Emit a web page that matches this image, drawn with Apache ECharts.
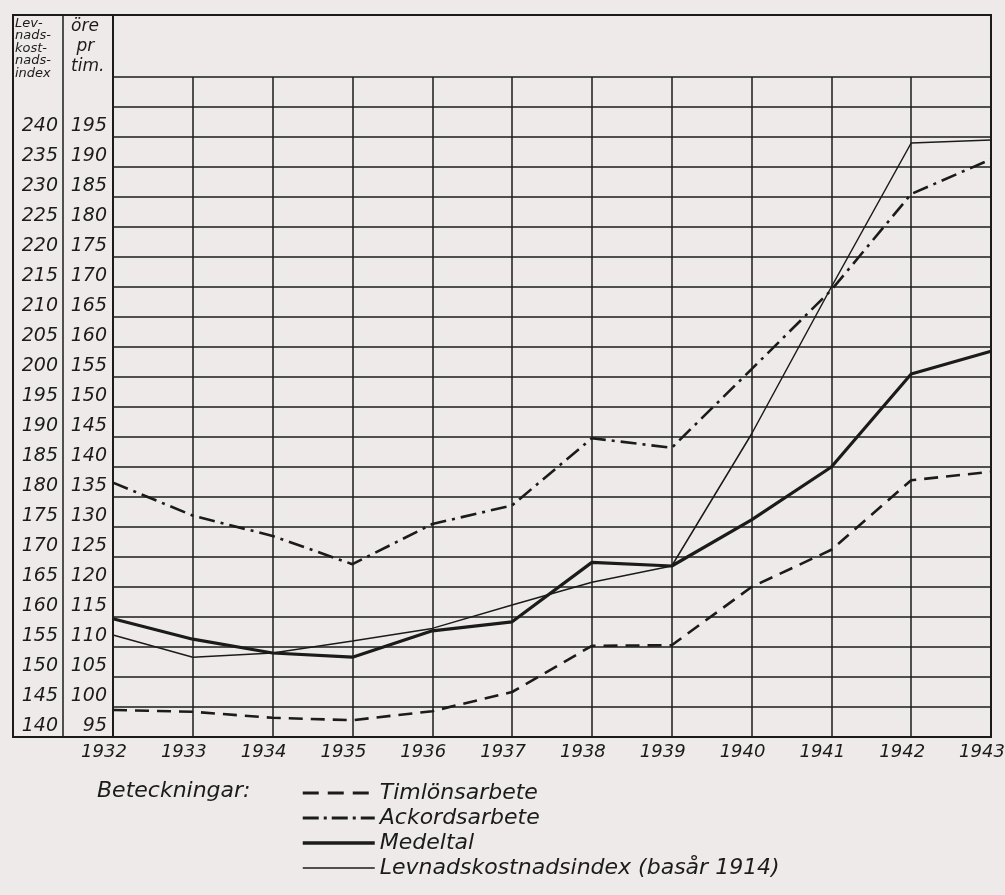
<!DOCTYPE html>
<html>
<head>
<meta charset="utf-8">
<title>Timförtjänst och levnadskostnadsindex 1932-1943</title>
<script src="https://cdn.jsdelivr.net/npm/echarts@6/dist/echarts.min.js"></script>
<style>
  html, body { margin: 0; padding: 0; background: #efeaea; }
  #main { width: 1005px; height: 895px; }
</style>
</head>
<body>
<div id="main"></div>
<script type="text/javascript">
// årtal
var years = ['1932', '1933', '1934', '1935', '1936', '1937', '1938', '1939', '1940', '1941', '1942', '1943'];
// öre pr tim.
var timlon   = [99.5, 99.2, 98.2, 97.8, 99.3, 102.5, 110.2, 110.3, 120.0, 126.2, 137.8, 139.2];
var ackord   = [137.4, 131.9, 128.5, 123.8, 130.5, 133.6, 144.8, 143.2, 156.3, 169.5, 185.5, 191.3];
var medeltal = [114.7, 111.3, 109.0, 108.3, 112.7, 114.2, 124.1, 123.5, 131.2, 140.0, 155.5, 159.3];
// levnadskostnadsindex, basår 1914
var levnad   = [157.0, 153.3, 154.0, 156.0, 158.1, 162.0, 165.8, 168.5, 190.5, 215.0, 239.0, 239.5];

var names = ['Timlönsarbete', 'Ackordsarbete', 'Medeltal', 'Levnadskostnadsindex (basår 1914)'];

var ink = '#1b1b1b';
var font = 'DejaVu Sans';

// ramens läge
var X0 = 13, X1 = 63, PL = 113, PR = 991, TB = 15, GT = 77, GB = 737;

var myChart = echarts.init(document.getElementById('main'));

myChart.setOption({
    backgroundColor: '#efeaea',
    animation: false,
    color: [ink, ink, ink, ink],
    grid: {
        left: PL, right: 1005 - PR, top: GT, bottom: 895 - GB,
        containLabel: false, outerBoundsMode: 'none'
    },
    xAxis: {
        type: 'category',
        data: years,
        boundaryGap: false,
        axisLine: { lineStyle: { color: ink, width: 2 } },
        axisTick: { show: false },
        axisLabel: {
            interval: 0, margin: 6, color: ink,
            fontFamily: font, fontStyle: 'italic', fontSize: 18,
            padding: [0, 18, 0, 0]
        },
        splitLine: { show: true, lineStyle: { color: ink, width: 1.5 } }
    },
    yAxis: [{
        type: 'value', position: 'left',
        min: 140, max: 250, interval: 5,
        axisLine: { show: true, lineStyle: { color: ink, width: 2 } },
        axisTick: { show: false },
        axisLabel: {
            margin: 55, color: ink, fontFamily: font, fontStyle: 'italic', fontSize: 19,
            verticalAlign: 'bottom', padding: [0, 0, 1, 0],
            formatter: function (v) { return v <= 240 ? v : ''; }
        },
        splitLine: { show: true, lineStyle: { color: ink, width: 1.5 } }
    }, {
        type: 'value', position: 'left',
        min: 95, max: 205, interval: 5,
        axisLine: { show: false },
        axisTick: { show: false },
        axisLabel: {
            margin: 6, color: ink, fontFamily: font, fontStyle: 'italic', fontSize: 19,
            verticalAlign: 'bottom', padding: [0, 0, 1, 0],
            formatter: function (v) { return v <= 195 ? v : ''; }
        },
        splitLine: { show: false }
    }],
    legend: {
        orient: 'vertical',
        left: 296, top: 777,
        itemWidth: 72, itemHeight: 20, itemGap: 3,
        data: [
            { name: names[0], lineStyle: { width: 3, type: [16, 9] } },
            { name: names[1], lineStyle: { width: 3, type: [16, 5, 3, 5] } },
            { name: names[2], lineStyle: { width: 3.5 } },
            { name: names[3], lineStyle: { width: 1.5 } }
        ],
        itemStyle: { opacity: 0 },
        textStyle: { color: ink, fontFamily: font, fontStyle: 'italic', fontSize: 22, lineHeight: 20 }
    },
    graphic: [
        { type: 'rect', shape: { x: X0, y: TB, width: PR - X0, height: GB - TB },
          style: { fill: null, stroke: ink, lineWidth: 2 }, silent: true },
        { type: 'line', shape: { x1: X1, y1: TB, x2: X1, y2: GB },
          style: { stroke: ink, lineWidth: 1.5 }, silent: true },
        { type: 'line', shape: { x1: PL, y1: TB, x2: PL, y2: GB },
          style: { stroke: ink, lineWidth: 2 }, silent: true },
        { type: 'text', left: 15, top: 17, silent: true,
          style: { text: 'Lev-\nnads-\nkost-\nnads-\nindex', fill: ink, font: 'italic 13px "DejaVu Sans"', lineHeight: 12.5 } },
        { type: 'text', left: 71, top: 17, silent: true,
          style: { text: 'öre\n pr\ntim.', fill: ink, font: 'italic 17px "DejaVu Sans"', lineHeight: 20 } },
        { type: 'text', left: 97, top: 780, silent: true,
          style: { text: 'Beteckningar:', fill: ink, font: 'italic 22px "DejaVu Sans"' } }
    ],
    series: [{
        name: names[0], type: 'line', yAxisIndex: 1, data: timlon,
        symbol: 'none', silent: true,
        lineStyle: { color: ink, width: 2.6, type: [14, 8] }
    }, {
        name: names[1], type: 'line', yAxisIndex: 1, data: ackord,
        symbol: 'none', silent: true,
        lineStyle: { color: ink, width: 2.6, type: [16, 6, 3, 6] }
    }, {
        name: names[2], type: 'line', yAxisIndex: 1, data: medeltal,
        symbol: 'none', silent: true,
        lineStyle: { color: ink, width: 3.2 }
    }, {
        name: names[3], type: 'line', yAxisIndex: 0, data: levnad,
        symbol: 'none', silent: true,
        lineStyle: { color: ink, width: 1.5 }
    }]
});
</script>
</body>
</html>
